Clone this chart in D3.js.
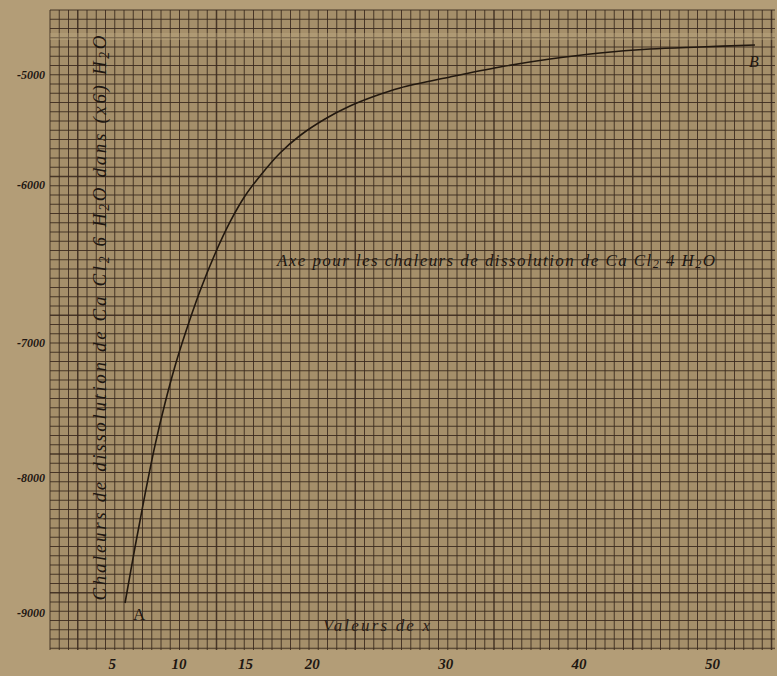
<!DOCTYPE html>
<html>
<head>
<meta charset="utf-8">
<script src="https://cdn.jsdelivr.net/npm/d3@7"></script>
<style>
  body { margin: 0; background: #b39d77; }
  svg { display: block; }
</style>
</head>
<body>
<div id="chart"></div>
<script>
// courbe A -> B : valeurs de x et chaleurs de dissolution
const xValues = [6.0, 6.75, 7.5, 8.25, 9.0, 9.75, 10.5, 11.62, 12.74, 13.87, 14.99, 16.12, 17.62, 19.12, 20.99, 22.86, 24.74, 26.61, 30.36, 34.11, 37.86, 41.6, 45.35, 49.1, 53.22]
const heatValues = [-8926, -8511, -8119, -7756, -7444, -7170, -6943, -6671, -6437, -6234, -6070, -5918, -5709, -5550, -5400, -5282, -5191, -5118, -5018, -4927, -4855, -4800, -4764, -4745, -4727]

// tick labels
const xTicks = [5, 10, 15, 20, 30, 40, 50]
const yTicks = [-9000, -8000, -7000, -6000, -5000]

// dimensions
const dim = {
    width: 777,
    height: 676,
    grid: { left: 50, right: 775, top: 10, bottom: 650 },
    cell: 9.25
}

const svg = d3.select("#chart")
    .append("svg")
        .attr("width", dim.width)
        .attr("height", dim.height)

// scales (the printed y labels are not evenly spaced on the sheet)
const xScale = d3.scaleLinear()
    .domain([0, 50])
    .range([45, 712])

const yScale = d3.scaleLinear()
    .domain(yTicks)
    .range([613, 478, 343, 185, 75])

// paper
const g = dim.grid
svg.append("rect")
    .attr("x", g.left).attr("y", g.top)
    .attr("width", g.right - g.left).attr("height", g.bottom - g.top)
    .attr("fill", "#a58f6a")

// millimetre grid
const vLines = d3.range(g.left, g.right + 0.1, dim.cell)
const hLines = d3.range(g.top, g.bottom + 0.1, dim.cell)

const grid = svg.append("g")
    .attr("stroke", "#3a291e")
    .attr("stroke-opacity", 0.88)

grid.selectAll(".v")
    .data(vLines)
    .join("line")
        .attr("class", "v")
        .attr("x1", d => d).attr("x2", d => d)
        .attr("y1", g.top).attr("y2", g.bottom)
        .attr("stroke-width", (d, i) => i % 15 === 3 ? 1.5 : 1)

grid.selectAll(".h")
    .data(hLines)
    .join("line")
        .attr("class", "h")
        .attr("y1", d => d).attr("y2", d => d)
        .attr("x1", g.left).attr("x2", g.right)
        .attr("stroke-width", (d, i) => i % 15 === 3 && i > 3 ? 1.5 : 1)

// fold in the scan
svg.append("rect")
    .attr("x", g.left).attr("y", 33)
    .attr("width", g.right - g.left).attr("height", 7)
    .attr("fill", "#c4ae86").attr("opacity", 0.35)

// axes
const yAxis = d3.axisLeft(yScale)
    .tickValues(yTicks)
    .tickSize(0)
    .tickPadding(5)
    .tickFormat(d => String(d))

svg.append("g")
    .attr("transform", `translate(${g.left}, 0)`)
    .call(yAxis)
    .call(a => a.select(".domain").remove())
    .selectAll("text")
        .attr("font-family", "Liberation Serif")
        .attr("font-style", "italic")
        .attr("font-weight", "bold")
        .attr("font-size", 12)
        .attr("fill", "#1e1712")

const xAxis = d3.axisBottom(xScale)
    .tickValues(xTicks)
    .tickSize(0)
    .tickPadding(8)

svg.append("g")
    .attr("transform", `translate(0, ${g.bottom})`)
    .call(xAxis)
    .call(a => a.select(".domain").remove())
    .selectAll("text")
        .attr("font-family", "Liberation Serif")
        .attr("font-style", "italic")
        .attr("font-weight", "bold")
        .attr("font-size", 15)
        .attr("fill", "#1e1712")

// curve
const curve = d3.line()
    .x(d => xScale(d[0]))
    .y(d => yScale(d[1]))
    .curve(d3.curveCatmullRom.alpha(0.5))

svg.append("path")
    .datum(d3.zip(xValues, heatValues))
    .attr("d", curve)
    .attr("fill", "none")
    .attr("stroke", "#22180f")
    .attr("stroke-width", 1.6)

// labels
const serif = "Liberation Serif"

function sub(sel, s) {
    sel.append("tspan")
        .attr("font-size", "0.72em")
        .attr("baseline-shift", "-20%")
        .text(s)
}

const yTitle = svg.append("text")
    .attr("transform", "translate(106, 318) rotate(-90)")
    .attr("text-anchor", "middle")
    .attr("font-family", serif)
    .attr("font-style", "italic")
    .attr("font-size", 19)
    .attr("fill", "#1e1712")
    .attr("textLength", 565)
    .attr("lengthAdjust", "spacing")
yTitle.append("tspan").text("Chaleurs de dissolution de Ca Cl")
sub(yTitle, "2")
yTitle.append("tspan").text(" 6 H")
sub(yTitle, "2")
yTitle.append("tspan").text("O dans (x6) H")
sub(yTitle, "2")
yTitle.append("tspan").text("O")

const midTitle = svg.append("text")
    .attr("x", 277).attr("y", 266)
    .attr("font-family", serif)
    .attr("font-style", "italic")
    .attr("font-size", 17)
    .attr("fill", "#1e1712")
    .attr("textLength", 438)
    .attr("lengthAdjust", "spacing")
midTitle.append("tspan").text("Axe pour les chaleurs de dissolution de Ca Cl")
sub(midTitle, "2")
midTitle.append("tspan").text(" 4 H")
sub(midTitle, "2")
midTitle.append("tspan").text("O")

svg.append("text")
    .attr("x", 323).attr("y", 631)
    .attr("font-family", serif)
    .attr("font-style", "italic")
    .attr("font-size", 17)
    .attr("fill", "#2a2018")
    .attr("textLength", 107)
    .attr("lengthAdjust", "spacing")
    .text("Valeurs de x")

svg.append("text")
    .attr("x", xScale(xValues[0]) + 8).attr("y", yScale(heatValues[0]) + 17)
    .attr("font-family", serif)
    .attr("font-size", 17)
    .attr("fill", "#1e1712")
    .text("A")

svg.append("text")
    .attr("x", xScale(xValues[xValues.length - 1]) - 6).attr("y", yScale(heatValues[heatValues.length - 1]) + 22)
    .attr("font-family", serif)
    .attr("font-style", "italic")
    .attr("font-size", 16)
    .attr("fill", "#1e1712")
    .text("B")
</script>
</body>
</html>
